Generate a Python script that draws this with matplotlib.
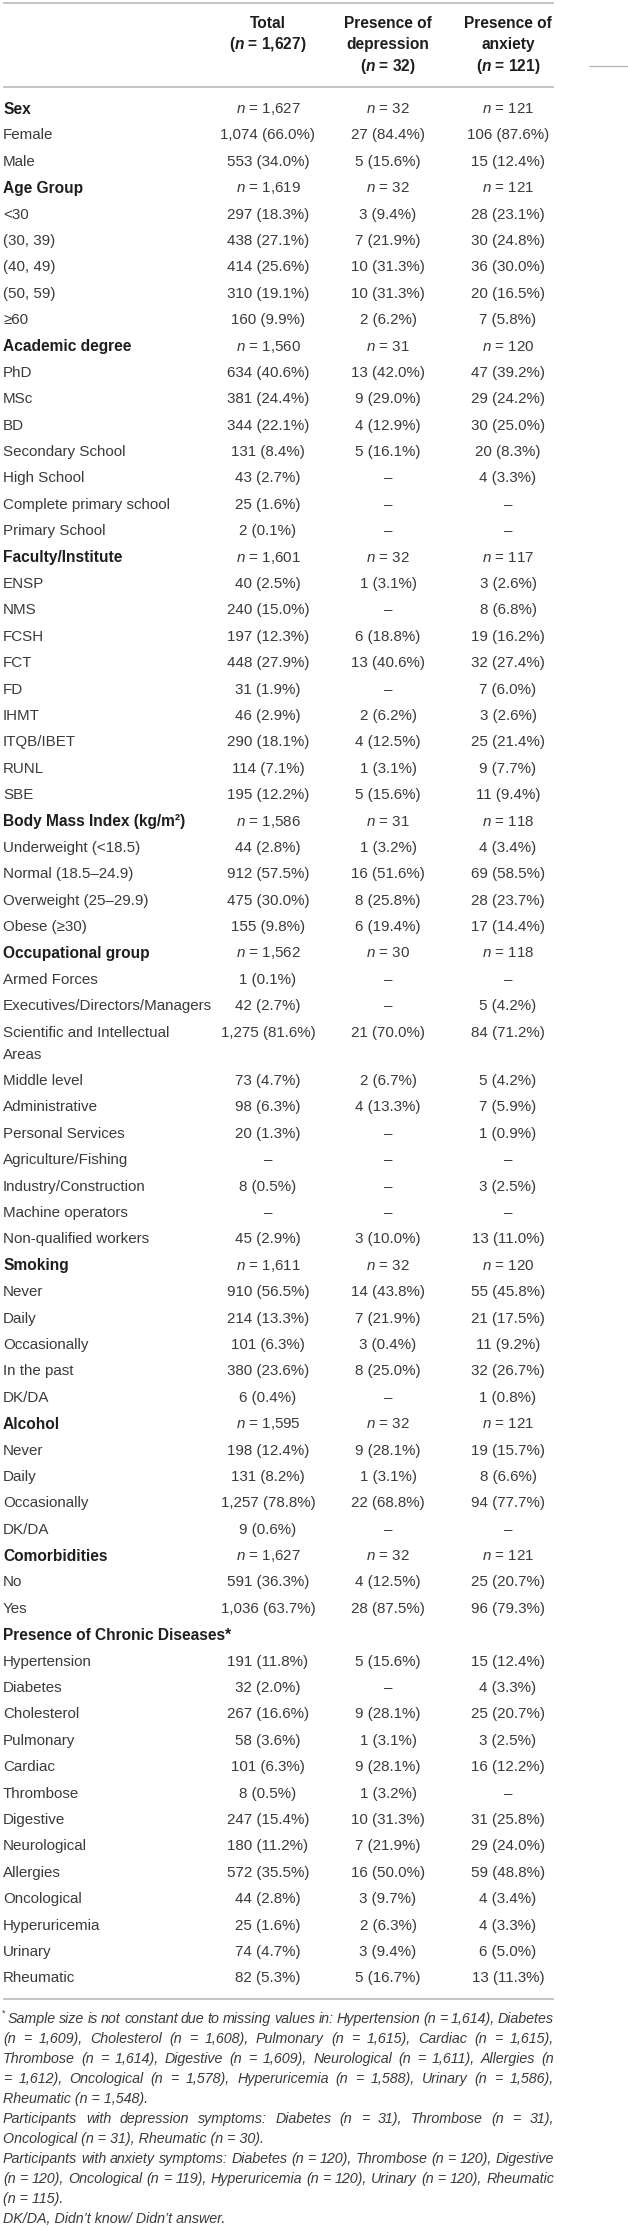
import matplotlib
matplotlib.use('Agg')
import matplotlib.pyplot as plt

plt.rcParams['font.family'] = ['Liberation Sans', 'DejaVu Sans']
plt.rcParams['mathtext.fontset'] = 'custom'
plt.rcParams['mathtext.rm'] = 'Liberation Sans'
plt.rcParams['mathtext.it'] = 'Liberation Sans:italic'
plt.rcParams['mathtext.bf'] = 'Liberation Sans:bold'
plt.rcParams['mathtext.bfit'] = 'Liberation Sans:italic:bold'

W, H = 628, 2230

col_heads = [
    ['Total', r'($\mathbfit{n}$ = 1,627)'],
    ['Presence of', 'depression', r'($\mathbfit{n}$ = 32)'],
    ['Presence of', 'anxiety', r'($\mathbfit{n}$ = 121)'],
]

labels = [
    'Sex', 'Female', 'Male',
    'Age Group', '<30', '(30, 39)', '(40, 49)', '(50, 59)', '≥60',
    'Academic degree', 'PhD', 'MSc', 'BD', 'Secondary School', 'High School',
    'Complete primary school', 'Primary School',
    'Faculty/Institute', 'ENSP', 'NMS', 'FCSH', 'FCT', 'FD', 'IHMT', 'ITQB/IBET', 'RUNL', 'SBE',
    'Body Mass Index (kg/m²)', 'Underweight (<18.5)', 'Normal (18.5–24.9)',
    'Overweight (25–29.9)', 'Obese (≥30)',
    'Occupational group', 'Armed Forces', 'Executives/Directors/Managers',
    'Scientific and Intellectual\nAreas', 'Middle level', 'Administrative',
    'Personal Services', 'Agriculture/Fishing', 'Industry/Construction',
    'Machine operators', 'Non-qualified workers',
    'Smoking', 'Never', 'Daily', 'Occasionally', 'In the past', 'DK/DA',
    'Alcohol', 'Never', 'Daily', 'Occasionally', 'DK/DA',
    'Comorbidities', 'No', 'Yes',
    'Presence of Chronic Diseases*', 'Hypertension', 'Diabetes', 'Cholesterol',
    'Pulmonary', 'Cardiac', 'Thrombose', 'Digestive', 'Neurological', 'Allergies',
    'Oncological', 'Hyperuricemia', 'Urinary', 'Rheumatic',
]

groups = ['Sex', 'Age Group', 'Academic degree', 'Faculty/Institute',
          'Body Mass Index (kg/m²)', 'Occupational group', 'Smoking', 'Alcohol',
          'Comorbidities', 'Presence of Chronic Diseases*']

total = [
    'n = 1,627', '1,074 (66.0%)', '553 (34.0%)',
    'n = 1,619', '297 (18.3%)', '438 (27.1%)', '414 (25.6%)', '310 (19.1%)', '160 (9.9%)',
    'n = 1,560', '634 (40.6%)', '381 (24.4%)', '344 (22.1%)', '131 (8.4%)', '43 (2.7%)',
    '25 (1.6%)', '2 (0.1%)',
    'n = 1,601', '40 (2.5%)', '240 (15.0%)', '197 (12.3%)', '448 (27.9%)', '31 (1.9%)',
    '46 (2.9%)', '290 (18.1%)', '114 (7.1%)', '195 (12.2%)',
    'n = 1,586', '44 (2.8%)', '912 (57.5%)', '475 (30.0%)', '155 (9.8%)',
    'n = 1,562', '1 (0.1%)', '42 (2.7%)', '1,275 (81.6%)', '73 (4.7%)', '98 (6.3%)',
    '20 (1.3%)', '–', '8 (0.5%)', '–', '45 (2.9%)',
    'n = 1,611', '910 (56.5%)', '214 (13.3%)', '101 (6.3%)', '380 (23.6%)', '6 (0.4%)',
    'n = 1,595', '198 (12.4%)', '131 (8.2%)', '1,257 (78.8%)', '9 (0.6%)',
    'n = 1,627', '591 (36.3%)', '1,036 (63.7%)',
    '', '191 (11.8%)', '32 (2.0%)', '267 (16.6%)', '58 (3.6%)', '101 (6.3%)',
    '8 (0.5%)', '247 (15.4%)', '180 (11.2%)', '572 (35.5%)', '44 (2.8%)',
    '25 (1.6%)', '74 (4.7%)', '82 (5.3%)',
]

depression = [
    'n = 32', '27 (84.4%)', '5 (15.6%)',
    'n = 32', '3 (9.4%)', '7 (21.9%)', '10 (31.3%)', '10 (31.3%)', '2 (6.2%)',
    'n = 31', '13 (42.0%)', '9 (29.0%)', '4 (12.9%)', '5 (16.1%)', '–', '–', '–',
    'n = 32', '1 (3.1%)', '–', '6 (18.8%)', '13 (40.6%)', '–', '2 (6.2%)',
    '4 (12.5%)', '1 (3.1%)', '5 (15.6%)',
    'n = 31', '1 (3.2%)', '16 (51.6%)', '8 (25.8%)', '6 (19.4%)',
    'n = 30', '–', '–', '21 (70.0%)', '2 (6.7%)', '4 (13.3%)', '–', '–', '–', '–',
    '3 (10.0%)',
    'n = 32', '14 (43.8%)', '7 (21.9%)', '3 (0.4%)', '8 (25.0%)', '–',
    'n = 32', '9 (28.1%)', '1 (3.1%)', '22 (68.8%)', '–',
    'n = 32', '4 (12.5%)', '28 (87.5%)',
    '', '5 (15.6%)', '–', '9 (28.1%)', '1 (3.1%)', '9 (28.1%)', '1 (3.2%)',
    '10 (31.3%)', '7 (21.9%)', '16 (50.0%)', '3 (9.7%)', '2 (6.3%)', '3 (9.4%)',
    '5 (16.7%)',
]

anxiety = [
    'n = 121', '106 (87.6%)', '15 (12.4%)',
    'n = 121', '28 (23.1%)', '30 (24.8%)', '36 (30.0%)', '20 (16.5%)', '7 (5.8%)',
    'n = 120', '47 (39.2%)', '29 (24.2%)', '30 (25.0%)', '20 (8.3%)', '4 (3.3%)', '–', '–',
    'n = 117', '3 (2.6%)', '8 (6.8%)', '19 (16.2%)', '32 (27.4%)', '7 (6.0%)',
    '3 (2.6%)', '25 (21.4%)', '9 (7.7%)', '11 (9.4%)',
    'n = 118', '4 (3.4%)', '69 (58.5%)', '28 (23.7%)', '17 (14.4%)',
    'n = 118', '–', '5 (4.2%)', '84 (71.2%)', '5 (4.2%)', '7 (5.9%)', '1 (0.9%)',
    '–', '3 (2.5%)', '–', '13 (11.0%)',
    'n = 120', '55 (45.8%)', '21 (17.5%)', '11 (9.2%)', '32 (26.7%)', '1 (0.8%)',
    'n = 121', '19 (15.7%)', '8 (6.6%)', '94 (77.7%)', '–',
    'n = 121', '25 (20.7%)', '96 (79.3%)',
    '', '15 (12.4%)', '4 (3.3%)', '25 (20.7%)', '3 (2.5%)', '16 (12.2%)', '–',
    '31 (25.8%)', '29 (24.0%)', '59 (48.8%)', '4 (3.4%)', '4 (3.3%)', '6 (5.0%)',
    '13 (11.3%)',
]

# footnote lines, True = justified
notes = [
    ('Sample size is not constant due to missing values in: Hypertension (n = 1,614), Diabetes', True),
    ('(n = 1,609), Cholesterol (n = 1,608), Pulmonary (n = 1,615), Cardiac (n = 1,615),', True),
    ('Thrombose (n = 1,614), Digestive (n = 1,609), Neurological (n = 1,611), Allergies (n', True),
    ('= 1,612), Oncological (n = 1,578), Hyperuricemia (n = 1,588), Urinary (n = 1,586),', True),
    ('Rheumatic (n = 1,548).', False),
    ('Participants with depression symptoms: Diabetes (n = 31), Thrombose (n = 31),', True),
    ('Oncological (n = 31), Rheumatic (n = 30).', False),
    ('Participants with anxiety symptoms: Diabetes (n = 120), Thrombose (n = 120), Digestive', True),
    ('(n = 120), Oncological (n = 119), Hyperuricemia (n = 120), Urinary (n = 120), Rheumatic', True),
    ('(n = 115).', False),
    ('DK/DA, Didn’t know/ Didn’t answer.', False),
]

body_c = '#3a3a3a'
bold_c = '#1e1e1e'
line_c = '#b4b4b4'
fs = 10.9

fig = plt.figure(figsize=(W / 100, H / 100), dpi=100)
ax = fig.add_axes([0, 0, 1, 1])
ax.set_xlim(0, W)
ax.set_ylim(H, 0)
ax.axis('off')

left, right = 3, 554
col_x = [268, 388, 508]

# rules
for y in [3, 87, 1999]:
    ax.plot([left, right], [y, y], color=line_c, lw=1.1, solid_capstyle='butt')
ax.plot([589, 628], [66, 66], color=line_c, lw=0.9, solid_capstyle='butt')

# column headers
for x, head in zip(col_x, col_heads):
    for k, s in enumerate(head):
        ax.text(x, 23 + k * 21.5, s, ha='center', va='center', fontsize=11.2,
                fontweight='bold', color=bold_c)


def cell(v):
    if v.startswith('n = '):
        return '$n$' + v[1:]
    return v


y = 109
pitch = 26.39
for lab, t, d, a in zip(labels, total, depression, anxiety):
    bold = lab in groups
    for k, part in enumerate(lab.split('\n')):
        ax.text(left, y + k * 22, part, ha='left', va='center', fontsize=11.2 if bold else fs,
                fontweight='bold' if bold else 'normal', color=bold_c if bold else body_c)
    for x, v in zip(col_x, [t, d, a]):
        ax.text(x, y, cell(v), ha='center', va='center', fontsize=fs, color=body_c)
    y += pitch + 22 * lab.count('\n')

# footnote
fig.canvas.draw()
rend = fig.canvas.get_renderer()
nfs = 10.3
ax.text(1.5, 2013, '*', ha='left', va='center', fontsize=6.5, color=body_c)
ny = 2019
for k, (s, just) in enumerate(notes):
    x0 = 8 if k == 0 else left
    if not just:
        ax.text(x0, ny, s, ha='left', va='center', fontsize=nfs, style='italic', color=body_c)
    else:
        words = s.split(' ')
        objs = [ax.text(0, ny, w_, ha='left', va='center', fontsize=nfs, style='italic',
                        color=body_c) for w_ in words]
        widths = [o.get_window_extent(rend).width for o in objs]
        gap = (right - x0 - sum(widths)) / (len(words) - 1)
        xx = x0
        for o, wd in zip(objs, widths):
            o.set_x(xx)
            xx += wd + gap
    ny += 20

fig.savefig('out.png', dpi=100)
